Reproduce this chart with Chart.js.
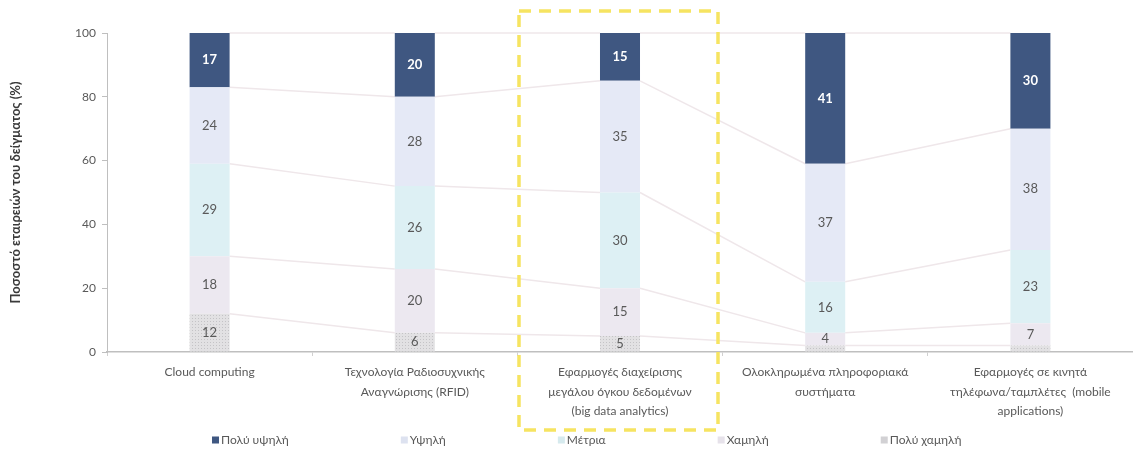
<!DOCTYPE html>
<html>
<head>
<meta charset="utf-8">
<script src="https://cdn.jsdelivr.net/npm/chart.js@4/dist/chart.umd.min.js"></script>
<style>
	html, body { margin: 0; padding: 0; background: #fff; }
	#wrap { width: 1133px; height: 462px; }
</style>
</head>
<body>
<div id="wrap"><canvas id="chart"></canvas></div>
<script>
// categories (multi-line labels as in the original)
var categories = [
	['Cloud computing'],
	['Τεχνολογία Ραδιοσυχνικής', 'Αναγνώρισης (RFID)'],
	['Εφαρμογές διαχείρισης', 'μεγάλου όγκου δεδομένων', '(big data analytics)'],
	['Ολοκληρωμένα πληροφοριακά', 'συστήματα'],
	['Εφαρμογές σε κινητά', 'τηλέφωνα/ταμπλέτες  (mobile', 'applications)']
]

// series values, bottom of the stack first
var polyXamili = [12, 6, 5, 2, 2]
var xamili = [18, 20, 15, 4, 7]
var metria = [29, 26, 30, 16, 23]
var ypsili = [24, 28, 35, 37, 38]
var polyYpsili = [17, 20, 15, 41, 30]

var yTicks = [0, 20, 40, 60, 80, 100]

// dotted fill for the lowest band
function dots () {
	var c = document.createElement('canvas')
	c.width = 3
	c.height = 3
	var g = c.getContext('2d')
	g.fillStyle = '#e2e1e3'
	g.fillRect(0, 0, 3, 3)
	g.fillStyle = '#c4c3c6'
	g.fillRect(0, 0, 1, 1)
	return g.createPattern(c, 'repeat')
}

var font = 'Lato, "Open Sans", sans-serif'
var grey = '#595959'

// connector lines between the stacked segments
var seriesLines = {
	id: 'seriesLines',
	beforeDatasetsDraw: function (chart) {
		var ctx = chart.ctx
		ctx.save()
		ctx.strokeStyle = '#efe7ea'
		ctx.lineWidth = 1.5
		chart.data.datasets.forEach(function (ds, d) {
			var bars = chart.getDatasetMeta(d).data
			for (var j = 0; j < bars.length - 1; j++) {
				var a = bars[j], b = bars[j + 1]
				ctx.beginPath()
				ctx.moveTo(a.x + a.width / 2, a.y)
				ctx.lineTo(b.x - b.width / 2, b.y)
				ctx.stroke()
			}
		})
		ctx.restore()
	}
}

// value labels in the middle of each segment
var valueLabels = {
	id: 'valueLabels',
	afterDatasetsDraw: function (chart) {
		var ctx = chart.ctx
		ctx.save()
		ctx.textAlign = 'center'
		ctx.textBaseline = 'middle'
		chart.data.datasets.forEach(function (ds, d) {
			var bars = chart.getDatasetMeta(d).data
			bars.forEach(function (bar, j) {
				var v = ds.data[j]
				if (v < 4) return
				var dark = d === chart.data.datasets.length - 1
				ctx.fillStyle = dark ? '#ffffff' : grey
				ctx.font = (dark ? 'bold ' : '') + '13px ' + font
				ctx.fillText(v, bar.x, (bar.y + bar.base) / 2)
			})
		})
		ctx.restore()
	}
}

// legend drawn in one row, widely spaced like the original
var bottomLegend = {
	id: 'bottomLegend',
	afterDraw: function (chart) {
		var ctx = chart.ctx
		var items = chart.data.datasets.slice().reverse()
		ctx.save()
		ctx.font = '12px ' + font
		ctx.textBaseline = 'middle'
		var x = 212, y = 440
		items.forEach(function (ds) {
			ctx.fillStyle = ds.legendColor
			ctx.fillRect(x, y - 3.5, 7, 7)
			ctx.fillStyle = grey
			ctx.fillText(ds.label, x + 9, y)
			x += 9 + ctx.measureText(ds.label).width + 112
		})
		ctx.restore()
	}
}

// yellow dashed highlight round the third category
var highlight = {
	id: 'highlight',
	afterDraw: function (chart) {
		var ctx = chart.ctx
		var cx = chart.scales.x.getPixelForValue(2)
		ctx.save()
		ctx.strokeStyle = '#f6e461'
		ctx.lineWidth = 3.5
		ctx.setLineDash([12, 8])
		ctx.strokeRect(cx - 101, 11, 199, 419)
		ctx.restore()
	}
}

var pattern = dots()

new Chart(document.getElementById('chart'), {
	type: 'bar',
	data: {
		labels: categories,
		datasets: [
			{ label: 'Πολύ χαμηλή', data: polyXamili, backgroundColor: pattern, legendColor: '#d2d1d4' },
			{ label: 'Χαμηλή', data: xamili, backgroundColor: '#ece8f0', legendColor: '#e6e2ea' },
			{ label: 'Μέτρια', data: metria, backgroundColor: '#ddf0f4', legendColor: '#d6eaee' },
			{ label: 'Υψηλή', data: ypsili, backgroundColor: '#e5e9f6', legendColor: '#dde2f0' },
			{ label: 'Πολύ υψηλή', data: polyYpsili, backgroundColor: '#3f5781', legendColor: '#3f5781' }
		]
	},
	options: {
		responsive: true,
		maintainAspectRatio: false,
		animation: false,
		layout: {
			padding: { left: 8, right: 0, top: 33, bottom: 0 }
		},
		datasets: {
			bar: {
				categoryPercentage: 1,
				barPercentage: 0.195
			}
		},
		plugins: {
			legend: { display: false },
			tooltip: { enabled: false }
		},
		scales: {
			x: {
				stacked: true,
				afterFit: function (s) { s.height = 110 },
				grid: {
					display: true,
					drawOnChartArea: false,
					offset: true,
					tickLength: 4,
					color: '#d0d0d0'
				},
				border: { color: '#bfbfbf', width: 1.5 },
				ticks: {
					autoSkip: false,
					maxRotation: 0,
					padding: 7,
					color: grey,
					font: { family: font, size: 12, lineHeight: 1.6 }
				}
			},
			y: {
				stacked: true,
				min: 0,
				max: 100,
				afterFit: function (s) { s.width = 99 },
				afterBuildTicks: function (s) {
					s.ticks = yTicks.map(function (v) { return { value: v } })
				},
				grid: {
					display: true,
					drawOnChartArea: false,
					tickLength: 5,
					color: '#bfbfbf'
				},
				border: { color: '#bfbfbf', width: 1 },
				ticks: {
					padding: 6,
					color: grey,
					font: { family: font, size: 12 }
				},
				title: {
					display: true,
					text: 'Ποσοστό εταιρειών του δείγματος (%)',
					color: '#3a3a3a',
					padding: { top: 0, bottom: 10 },
					font: { family: font, size: 13, weight: 'bold' }
				}
			}
		}
	},
	plugins: [seriesLines, valueLabels, bottomLegend, highlight]
})
</script>
</body>
</html>
